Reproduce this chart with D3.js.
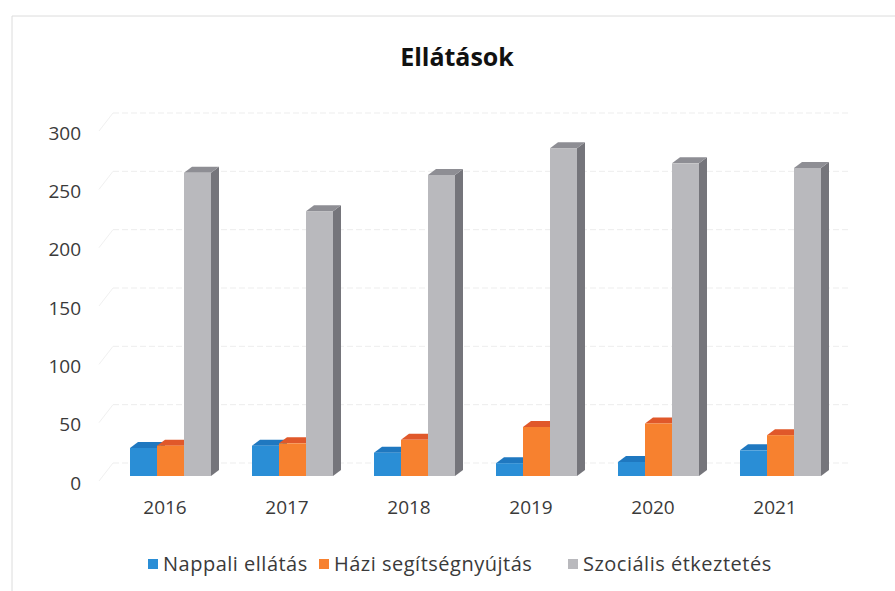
<!DOCTYPE html>
<html>
<head>
<meta charset="utf-8">
<script src="https://cdn.jsdelivr.net/npm/d3@7"></script>
<style>
  html, body { margin: 0; padding: 0; background: #fff; }
  svg { display: block; font-family: "Open Sans", "Noto Sans", sans-serif; }
</style>
</head>
<body>
<svg id="chart" width="895" height="591"></svg>
<script>
// Évek és ellátási adatok
const years = ["2016", "2017", "2018", "2019", "2020", "2021"];
const seriesNames = ["Nappali ellátás", "Házi segítségnyújtás", "Szociális étkeztetés"];
const nappali = [24, 26, 20, 11, 12, 22];
const hazi = [26, 28, 31, 42, 45, 35];
const szocialis = [260, 227, 258, 281, 268, 264];
const yTicks = [0, 50, 100, 150, 200, 250, 300];

const seriesValues = [nappali, hazi, szocialis];
// front, top, side colours for each series
const palette = [
  { front: "#2a8ed6", top: "#1f78c0", side: "#1a64a0" },
  { front: "#f7812f", top: "#e0582a", side: "#c24a1e" },
  { front: "#b9b9bd", top: "#8e8e94", side: "#75757b" }
];

const svg = d3.select("#chart");

// chart frame
svg.append("path")
  .attr("d", "M12,591 L12,16 L895,16")
  .attr("fill", "none")
  .attr("stroke", "#dcdcdc")
  .attr("stroke-width", 1);

// title
svg.append("text")
  .attr("x", 457).attr("y", 66)
  .attr("text-anchor", "middle")
  .attr("font-size", 25)
  .attr("font-weight", "bold")
  .attr("fill", "#111")
  .text("Ellátások");

const x = d3.scaleBand().domain(years).range([104, 836]).padding(0);
const y = d3.scaleLinear().domain([0, 300]).range([476, 126]);

const depthX = 8, depthY = 6;     // 3D bar depth offset
const barW = 27;                  // width of one bar's front face
const wallShift = -13;            // back wall offset relative to the bar plane
const labelShift = 7;             // front floor edge offset

// back-wall gridlines
const grid = svg.append("g");
yTicks.forEach(t => {
  const gy = y(t) + wallShift;
  grid.append("line")
    .attr("x1", 113).attr("x2", 850)
    .attr("y1", gy).attr("y2", gy)
    .attr("stroke", "#ededed")
    .attr("stroke-dasharray", "6,3")
    .attr("stroke-width", 1);
  grid.append("line")
    .attr("x1", 99).attr("y1", y(t) + labelShift - 2)
    .attr("x2", 113).attr("y2", gy)
    .attr("stroke", "#f0f0f0")
    .attr("stroke-width", 1);
});

// y-axis labels placed along the front edge of the floor
const yAxis = d3.axisLeft(y).tickValues(yTicks).tickSize(0).tickPadding(0);
const yg = svg.append("g")
  .attr("transform", `translate(81,${labelShift})`)
  .call(yAxis);
yg.select(".domain").remove();
yg.selectAll("text")
  .attr("font-size", 19)
  .attr("fill", "#3a3a3a")
  .attr("font-family", "'Open Sans', sans-serif");

// x-axis labels
const xAxis = d3.axisBottom(x).tickSize(0).tickPadding(0);
const xg = svg.append("g")
  .attr("transform", "translate(0,500)")
  .call(xAxis);
xg.select(".domain").remove();
xg.selectAll("text")
  .attr("font-size", 19)
  .attr("fill", "#3a3a3a")
  .attr("font-family", "'Open Sans', sans-serif");

// 3D columns
const bars = svg.append("g");
years.forEach((yr, i) => {
  const gx = x(yr) + x.bandwidth() / 2 - 35;
  seriesValues.forEach((vals, s) => {
    const v = vals[i];
    const x0 = gx + s * barW, x1 = x0 + barW;
    const yt = y(v), yb = y(0);
    const c = palette[s];
    const b = bars.append("g");
    // side face
    b.append("path")
      .attr("d", `M${x1},${yb} L${x1 + depthX},${yb - depthY} L${x1 + depthX},${yt - depthY} L${x1},${yt} Z`)
      .attr("fill", c.side);
    // top face
    b.append("path")
      .attr("d", `M${x0},${yt} L${x0 + depthX},${yt - depthY} L${x1 + depthX},${yt - depthY} L${x1},${yt} Z`)
      .attr("fill", c.top);
    // front face
    b.append("rect")
      .attr("x", x0).attr("y", yt)
      .attr("width", barW).attr("height", yb - yt)
      .attr("fill", c.front);
  });
});

// legend
const legendItems = [
  { name: seriesNames[0], x: 148 },
  { name: seriesNames[1], x: 319 },
  { name: seriesNames[2], x: 568 }
];
const legend = svg.append("g");
legendItems.forEach((d, i) => {
  legend.append("rect")
    .attr("x", d.x).attr("y", 559)
    .attr("width", 10).attr("height", 10)
    .attr("fill", palette[i].front);
  legend.append("text")
    .attr("x", d.x + 15).attr("y", 571)
    .attr("font-size", 20)
    .attr("letter-spacing", 0.5)
    .attr("fill", "#3a3a3a")
    .text(d.name);
});
</script>
</body>
</html>
